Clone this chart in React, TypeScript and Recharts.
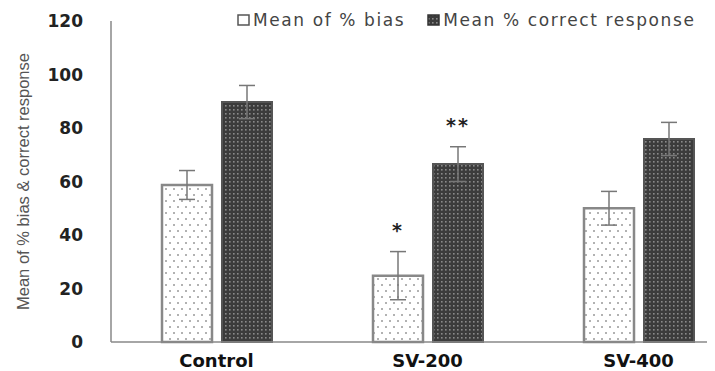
import { BarChart, Bar, XAxis, YAxis, ErrorBar, LabelList, Legend, Label } from "recharts";

const groups = ["Control", "SV-200", "SV-400"];
const biasMean = [58.7, 24.8, 50.0];
const biasErr = [5.4, 9.0, 6.3];
const correctMean = [89.7, 66.5, 75.9];
const correctErr = [6.2, 6.5, 6.2];
const biasStars = ["", "*", ""];
const correctStars = ["", "**", ""];
const yTicks = [0, 20, 40, 60, 80, 100, 120];
const yTitle = "Mean of % bias & correct response";

const data = groups.map((g, i) => ({
  group: g,
  bias: biasMean[i],
  biasErr: biasErr[i],
  biasStar: biasStars[i],
  correct: correctMean[i],
  correctErr: correctErr[i],
  correctStar: correctStars[i],
}));

// star above the top of the error bar, worked out from the bar's own geometry
const starLabel = (errs: number[], vals: number[], lift: number) => (props: any) => {
  const { x, y, width, height, value, index } = props;
  if (!value) return null;
  const pxPerUnit = height / vals[index];
  const top = y - errs[index] * pxPerUnit;
  return (
    <text
      x={x + width / 2}
      y={top - lift}
      textAnchor="middle"
      fontFamily="DejaVu Sans"
      fontWeight="bold"
      fontSize={19}
      letterSpacing={2}
      fill="#222"
    >
      {value}
    </text>
  );
};

// condensed rotated axis title
const YTitle = (props: any) => {
  const { viewBox } = props;
  const cx = 23;
  const cy = viewBox.y + viewBox.height / 2;
  return (
    <text
      x={cx}
      y={cy}
      transform={`rotate(-90 ${cx} ${cy})`}
      textAnchor="middle"
      dominantBaseline="central"
      fontFamily="Liberation Sans"
      fontSize={16}
      fill="#555"
      textLength={257}
      lengthAdjust="spacingAndGlyphs"
    >
      {yTitle}
    </text>
  );
};

const LegendBox = () => (
  <div
    style={{
      display: "flex",
      fontFamily: "DejaVu Sans",
      fontSize: 17,
      letterSpacing: 1.6,
      color: "#444",
      whiteSpace: "nowrap",
    }}
  >
    <span style={{ display: "flex", alignItems: "center", marginRight: 22 }}>
      <svg width={14} height={14} style={{ marginRight: 2 }}>
        <rect x={1} y={2} width={11} height={10} fill="#fff" stroke="#555" strokeWidth={1.5} />
      </svg>
      Mean of % bias
    </span>
    <span style={{ display: "flex", alignItems: "center" }}>
      <svg width={14} height={14} style={{ marginRight: 2 }}>
        <rect x={1} y={2} width={11} height={10} fill="url(#darkDots)" stroke="#333" strokeWidth={1.5} />
      </svg>
      Mean % correct response
    </span>
  </div>
);

export default function App() {
  return (
    <div style={{ margin: "-8px 0 0 -8px", width: 715, height: 371, overflow: "hidden", background: "#fff" }}>
      <BarChart
        width={760}
        height={380}
        data={data}
        margin={{ top: 21, right: 16, bottom: 8, left: 0 }}
        barSize={50}
        barGap={10}
      >
        <defs>
          <pattern id="lightDots" width={8} height={12} patternUnits="userSpaceOnUse">
            <rect width={8} height={12} fill="#fff" />
            <circle cx={2} cy={3} r={1} fill="#999" />
            <circle cx={6} cy={9} r={1} fill="#999" />
          </pattern>
          <pattern id="darkDots" width={4} height={4} patternUnits="userSpaceOnUse">
            <rect width={4} height={4} fill="#3c3c3c" />
            <rect x={1} y={1} width={1.6} height={1.6} fill="#8a8a8a" />
          </pattern>
        </defs>
        <XAxis
          dataKey="group"
          axisLine={{ stroke: "#888", strokeWidth: 1.5 }}
          tickLine={false}
          tickMargin={6}
          height={30}
          tick={{ fontFamily: "DejaVu Sans", fontWeight: "bold", fontSize: 18, fill: "#111" }}
        />
        <YAxis
          domain={[0, 120]}
          ticks={yTicks}
          width={111}
          axisLine={{ stroke: "#888", strokeWidth: 1.5 }}
          tickLine={false}
          tickMargin={22}
          tick={{ fontFamily: "DejaVu Sans", fontWeight: "bold", fontSize: 17, fill: "#222" }}
        >
          <Label content={<YTitle />} />
        </YAxis>
        <Legend
          verticalAlign="middle"
          align="center"
          content={<LegendBox />}
          wrapperStyle={{ position: "absolute", top: 10, left: 237, width: "auto" }}
        />
        <Bar
          dataKey="bias"
          fill="url(#lightDots)"
          stroke="#888"
          strokeWidth={2.5}
          isAnimationActive={false}
        >
          <ErrorBar dataKey="biasErr" width={8} stroke="#777" strokeWidth={1.5} />
          <LabelList dataKey="biasStar" content={starLabel(biasErr, biasMean, 15)} />
        </Bar>
        <Bar
          dataKey="correct"
          fill="url(#darkDots)"
          stroke="#555"
          strokeWidth={2}
          isAnimationActive={false}
        >
          <ErrorBar dataKey="correctErr" width={8} stroke="#777" strokeWidth={1.5} />
          <LabelList dataKey="correctStar" content={starLabel(correctErr, correctMean, 15)} />
        </Bar>
      </BarChart>
    </div>
  );
}
